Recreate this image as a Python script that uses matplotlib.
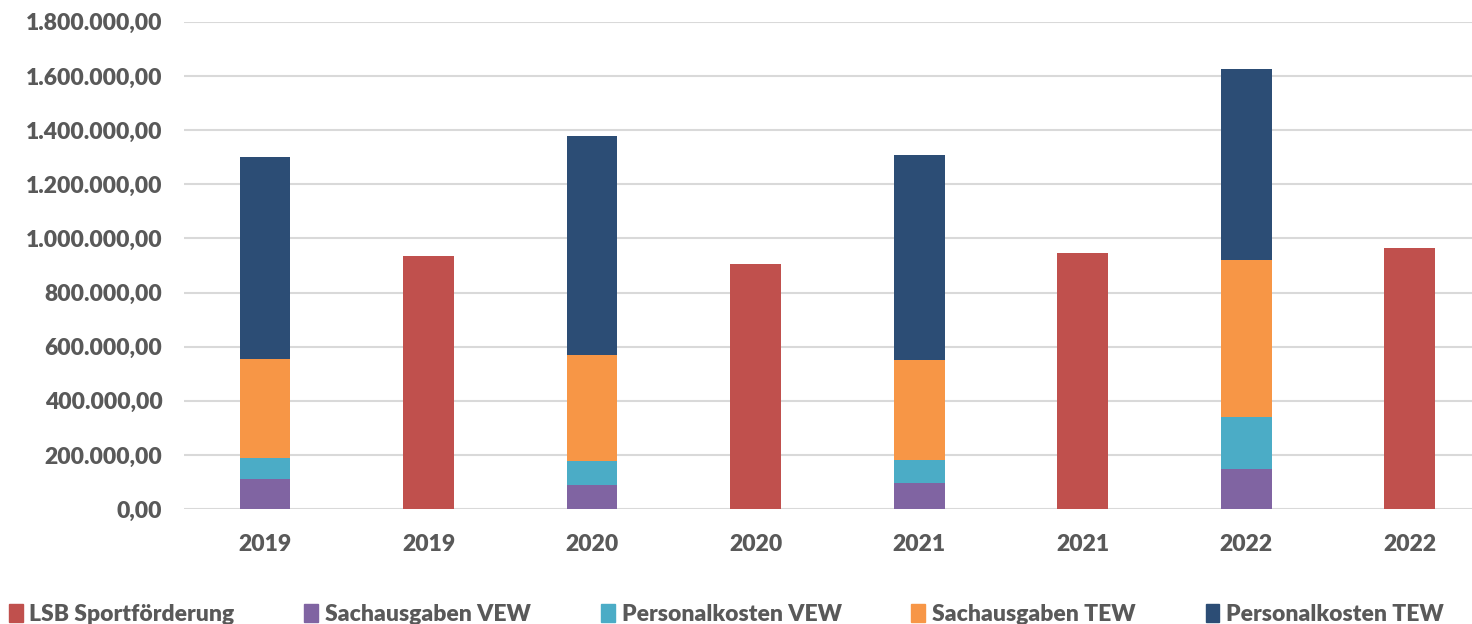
import numpy as np
import matplotlib.pyplot as plt
from matplotlib.ticker import FuncFormatter
from matplotlib.patches import Patch

plt.rcParams['font.family'] = ['Lato', 'DejaVu Sans']
plt.rcParams['font.weight'] = 'heavy'

jahre = ['2019', '2020', '2021', '2022']
# TEW/VEW stacks per year
sach_vew = [110000, 89000, 97000, 150000]
pers_vew = [79000, 89000, 86000, 192000]
sach_tew = [367000, 391000, 369000, 577000]
pers_tew = [745000, 810000, 757000, 707000]
# LSB support per year
lsb = [934000, 904000, 945000, 963000]

farben = {
    'LSB Sportförderung': '#c0504d',
    'Sachausgaben VEW': '#8064a2',
    'Personalkosten VEW': '#4bacc6',
    'Sachausgaben TEW': '#f79646',
    'Personalkosten TEW': '#2c4d75',
}

fig = plt.figure(figsize=(14.72, 6.24), dpi=100)
ax = fig.add_axes([0.125, 0.184, 0.875, 0.781])

x_stack = np.arange(len(jahre)) * 2
x_lsb = x_stack + 1
w = 0.31

unten = np.zeros(len(jahre))
for name, werte in [('Sachausgaben VEW', sach_vew), ('Personalkosten VEW', pers_vew),
                    ('Sachausgaben TEW', sach_tew), ('Personalkosten TEW', pers_tew)]:
    ax.bar(x_stack, werte, w, bottom=unten, color=farben[name], zorder=3)
    unten += np.array(werte)
ax.bar(x_lsb, lsb, w, color=farben['LSB Sportförderung'], zorder=3)

ax.set_xlim(-0.495, 7.38)
ax.set_ylim(0, 1800000)
ax.set_yticks(np.arange(0, 1800001, 200000))


def de_fmt(v, pos):
    s = f'{v:,.2f}'
    return s.replace(',', 'X').replace('.', ',').replace('X', '.')


ax.yaxis.set_major_formatter(FuncFormatter(de_fmt))
ax.set_xticks(np.arange(8))
ax.set_xticklabels([j for j in jahre for _ in range(2)])
ax.grid(axis='y', color='#d9d9d9', linewidth=1.5, zorder=0)
for s in ax.spines.values():
    s.set_visible(False)
ax.tick_params(length=0, labelsize=16.5, labelcolor='#595959', pad=18)
ax.tick_params(axis='y', pad=15.5)

handles = [Patch(color=c, label=n) for n, c in farben.items()]
leg = fig.legend(handles=handles, loc='lower left', bbox_to_anchor=(-0.008, -0.035), ncol=5,
                 frameon=False, fontsize=16.5, handlelength=0.6, handleheight=0.8,
                 handletextpad=0.3, columnspacing=3.05)
for t in leg.get_texts():
    t.set_color('#595959')

fig.savefig('out.png', dpi=100)
